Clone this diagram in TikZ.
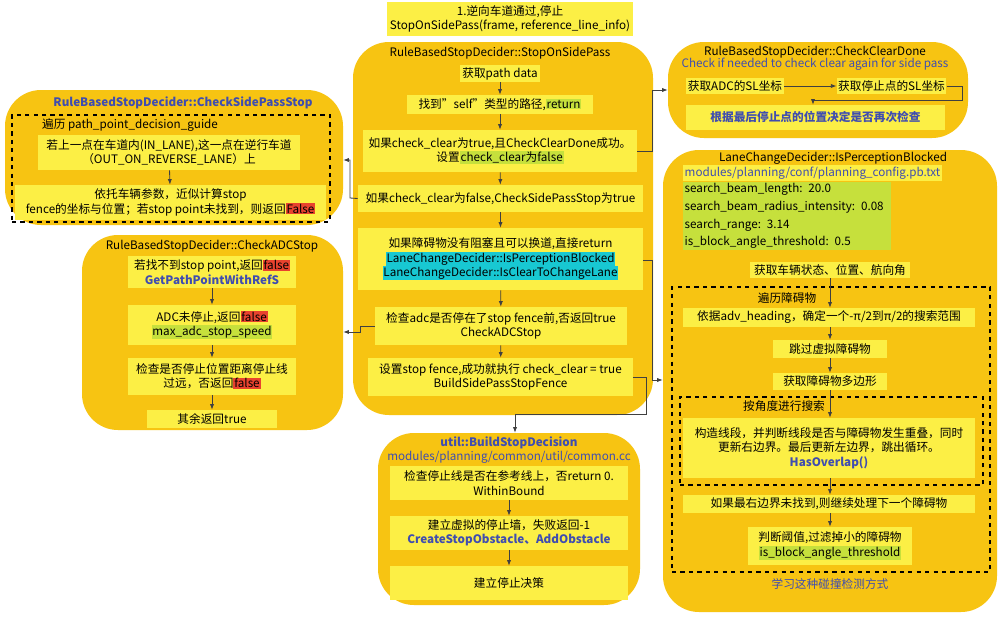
\documentclass[tikz,border=0pt]{standalone}
\usepackage{fontspec}
\setmainfont{Noto Sans CJK SC}
\usetikzlibrary{arrows.meta}
\definecolor{contc}{HTML}{F7C412}
\definecolor{boxc}{HTML}{FCEF45}
\definecolor{grn}{HTML}{C6E03C}
\definecolor{redc}{HTML}{E8432E}
\definecolor{cyn}{HTML}{18C8D2}
\definecolor{blu}{HTML}{3F4DB0}
\newcommand{\hg}[1]{{\setlength{\fboxsep}{0.6pt}\colorbox{grn}{#1}}}
\newcommand{\hr}[1]{{\setlength{\fboxsep}{0.6pt}\colorbox{redc}{#1}}}
\newcommand{\hc}[1]{{\setlength{\fboxsep}{0.6pt}\colorbox{cyn}{#1}}}
% box from pixel corners
\newcommand{\bx}[7][stepbox]{\node[#1,minimum width={(#5-#3)*0.025cm},minimum height={(#6-#4)*0.025cm}] (#2) at ({(#3+#5)/2},{(#4+#6)/2}) {#7};}
\tikzset{
  every node/.style={font=\fontsize{8.3}{10.2}\selectfont,inner sep=1pt,align=center},
  stepbox/.style={fill=boxc},
  cont/.style={fill=contc,rounded corners=0.9cm},
  frame/.style={draw,dashed,thick,fill=none},
  arr/.style={-{Latex[length=4pt]},semithick,black!75},
}
\begin{document}
\begin{tikzpicture}[x=0.025cm,y=-0.025cm]
\useasboundingbox[fill=white] (0,0) rectangle (1000,619);
%containers
\bx[cont]{main}{353}{42}{653}{415}{}
\bx[cont]{csp}{5}{90}{343}{225}{}
\bx[cont]{adc}{82}{235}{343}{430}{}
\bx[cont]{ccd}{668}{42}{968}{138}{}
\bx[cont]{ipb}{663}{150}{997}{612}{}
\bx[cont]{bsd}{378}{433}{640}{605}{}
%MAIN
\bx{title}{387}{2}{633}{36}{1.逆向车道通过,停止\\StopOnSidePass(frame, reference\_line\_info)}
\node (mt) at (500,53) {RuleBasedStopDecider::StopOnSidePass};
\bx{m1}{460}{65}{540}{82}{获取path data}
\bx{m2}{407}{95}{593}{114}{找到\char`\"self\char`\"类型的路径,\hg{return}}
\bx{m3}{363}{130}{637}{172}{如果check\_clear为true,且CheckClearDone成功。\\设置\hg{check\_clear为false}}
\bx{m4}{358}{185}{643}{212}{如果check\_clear为false,CheckSidePassStop为true}
\bx{m5}{358}{228}{643}{290}{如果障碍物没有阻塞且可以换道,直接return\\\hc{LaneChangeDecider::IsPerceptionBlocked}\\\hc{LaneChangeDecider::IsClearToChangeLane}}
\bx{m6}{375}{307}{627}{345}{检查adc是否停在了stop fence前,否返回true\\CheckADCStop}
\bx{m7}{368}{358}{633}{396}{设置stop fence,成功就执行 check\_clear = true\\BuildSidePassStopFence}
\foreach \a/\b in {m1/m2,m2/m3,m3/m4,m4/m5,m5/m6,m6/m7}
  \draw[arr] (\a) -- (\b);
%CHECK SIDE PASS STOP
\node[text=blu,font=\fontsize{8.3}{10.2}\selectfont\bfseries] (ct) at (183,103) {RuleBasedStopDecider::CheckSidePassStop};
\bx[frame]{cf}{12}{115}{330}{222}{}
\node (cl) at (130,125) {遍历 path\_point\_decision\_guide};
\bx{c1}{38}{135}{300}{170}{若上一点在车道内(IN\_LANE),这一点在逆行车道\\（OUT\_ON\_REVERSE\_LANE）上}
\bx{c2}{15}{185}{326}{220}{依托车辆参数，近似计算stop\\fence的坐标与位置；若stop point未找到，则返回\hr{False}}
\draw[arr] (c1) -- (c2);
%CHECK ADC STOP
\node (at) at (212,246) {RuleBasedStopDecider::CheckADCStop};
\bx{a1}{128}{256}{296}{288}{若找不到stop point,返回\hr{false}\\\textcolor{blu}{\bfseries GetPathPointWithRefS}}
\bx{a2}{128}{305}{296}{345}{ADC未停止,返回\hr{false}\\\hg{max\_adc\_stop\_speed}}
\bx{a3}{128}{358}{296}{395}{检查是否停止位置距离停止线\\过远，否返回\hr{false}}
\bx{a4}{147}{410}{277}{428}{其余返回true}
\foreach \a/\b in {a1/a2,a2/a3,a3/a4}
  \draw[arr] (\a) -- (\b);
%CHECK CLEAR DONE
\node (dt) at (815,52) {RuleBasedStopDecider::CheckClearDone};
\node[text=blu] (dt2) at (815,64) {Check if needed to check clear again for side pass};
\bx{d1}{686}{78}{784}{94}{获取ADC的SL坐标}
\bx{d2}{837}{78}{946}{94}{获取停止点的SL坐标}
\bx{d3}{686}{105}{945}{130}{\textcolor{blu}{\bfseries 根据最后停止点的位置决定是否再次检查}}
\draw[arr] (d1) -- (d2);
\draw[arr] (d2.east) -- ++(16,0) |- (813,100) -- (d3.north -| 813,0);
%IS PERCEPTION BLOCKED
\node (pt) at (833,158) {LaneChangeDecider::IsPerceptionBlocked};
\node[fill=boxc,text=blu,anchor=west] (pp) at (683,173) {modules/planning/conf/planning\_config.pb.txt};
\node[fill=grn,anchor=north west,align=left,text width=205*0.025cm,font=\fontsize{8.3}{12.5}\selectfont] (pg) at (683,182) {search\_beam\_length: 20.0\\search\_beam\_radius\_intensity: 0.08\\search\_range: 3.14\\is\_block\_angle\_threshold: 0.5};
\bx{p0}{750}{262}{910}{278}{获取车辆状态、位置、航向角}
\bx[frame]{pf}{672}{287}{990}{572}{}
\node (pl) at (787,298) {遍历障碍物};
\bx{p1}{683}{308}{975}{327}{依据adv\_heading，确定一个-π/2到π/2的搜索范围}
\bx{p2}{773}{340}{887}{358}{跳过虚拟障碍物}
\bx{p3}{773}{373}{887}{390}{获取障碍物多边形}
\bx[frame]{pi}{680}{397}{983}{485}{}
\node (pil) at (784,406) {按角度进行搜索};
\bx{p4}{683}{418}{975}{478}{构造线段，并判断线段是否与障碍物发生重叠，同时\\更新右边界。最后更新左边界，跳出循环。\\\textcolor{blu}{\bfseries HasOverlap()}}
\bx{p5}{683}{495}{975}{513}{如果最右边界未找到,则继续处理下一个障碍物}
\bx{p6}{748}{527}{912}{565}{判断阈值,过滤掉小的障碍物\\\hg{is\_block\_angle\_threshold}}
\node[text=blu] (pn) at (830,584) {学习这种碰撞检测方式};
\draw[arr] (p0.south -| 830,0) -- (p1.north -| 830,0);
\foreach \a/\b in {p1/p2,p2/p3,p4/p5,p5/p6}
  \draw[arr] (\a.south -| 830,0) -- (\b.north -| 830,0);
\draw[arr] (p3.south -| 830,0) -- (p4.north -| 830,0);
%BUILD STOP DECISION
\node[text=blu,font=\fontsize{8.3}{10.2}\selectfont\bfseries] (bt) at (509,443) {util::BuildStopDecision};
\node[text=blu] (bp) at (509,457) {modules/planning/common/util/common.cc};
\bx{b1}{390}{466}{628}{500}{检查停止线是否在参考线上，否return 0.\\WithinBound}
\bx{b2}{390}{516}{628}{550}{建立虚拟的停止墙，失败返回-1\\\textcolor{blu}{\bfseries CreateStopObstacle、AddObstacle}}
\bx{b3}{390}{566}{628}{600}{建立停止决策}
\draw[arr] (b1.south -| 509,0) -- (b2.north -| 509,0);
\draw[arr] (b2.south -| 509,0) -- (b3.north -| 509,0);
%links
\draw[arr] (m3.east) -- (652,151) |- (ccd.west |- 0,90);
\draw[arr] (m4.west) -- (350,198) |- (csp.east |- 0,160);
\draw[arr] (m6.west) -- (360,326) |- (adc.east |- 0,332);
\draw[arr] (m5.east |- 0,260) -- (652,260) |- (ipb.west |- 0,380);
\draw[arr] (m7.east |- 0,377) -- (646,377) |- (515,414) -- (bsd.north -| 515,0);
\end{tikzpicture}
\end{document}
